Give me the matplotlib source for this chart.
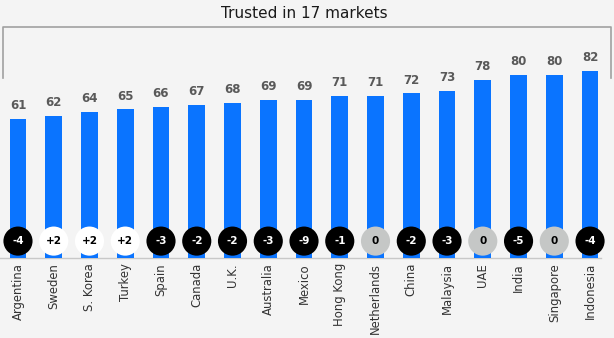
import matplotlib.pyplot as plt

countries = ["Argentina", "Sweden", "S. Korea", "Turkey", "Spain", "Canada", "U.K.",
             "Australia", "Mexico", "Hong Kong", "Netherlands", "China", "Malaysia",
             "UAE", "India", "Singapore", "Indonesia"]
trust = [61, 62, 64, 65, 66, 67, 68, 69, 69, 71, 71, 72, 73, 78, 80, 80, 82]
change = [-4, 2, 2, 2, -3, -2, -2, -3, -9, -1, 0, -2, -3, 0, -5, 0, -4]

fig = plt.figure(figsize=(6.14, 3.38), dpi=100)
fig.patch.set_facecolor("#f4f4f4")
ax = fig.add_axes([0, 0, 1, 1])
ax.set_facecolor("#f4f4f4")
ax.set_xlim(-0.503, 16.67)
ax.set_ylim(-35, 112.9)
ax.axis("off")

x = list(range(len(countries)))
ax.bar(x, trust, width=0.47, color="#0a74ff", zorder=2)

for i, v in enumerate(trust):
    ax.text(i, v + 3, str(v), ha="center", va="bottom", fontsize=8.5,
            color="#595959", fontweight="bold")

# baseline
ax.plot([-0.5, 16.3], [0, 0], color="#c8c8c8", lw=1, zorder=1)

# change circles
for i, c in enumerate(change):
    if c < 0:
        fc, tc, lab = "black", "white", str(c)
    elif c > 0:
        fc, tc, lab = "white", "black", "+" + str(c)
    else:
        fc, tc, lab = "#c5c7c6", "black", "0"
    ax.scatter(i, 7.4, s=440, color=fc, zorder=3, edgecolors="none")
    ax.text(i, 7.4, lab, ha="center", va="center", fontsize=7.5, color=tc,
            fontweight="bold", zorder=4)

for i, name in enumerate(countries):
    ax.text(i, -2.2, name, rotation=90, ha="center", va="top", fontsize=8.4,
            color="#333333")

# bracket
bx0, bx1 = -0.42, 16.59
ax.plot([bx0, bx0, bx1, bx1], [78.7, 101, 101, 78.7], color="#a0a0a0", lw=1.2)
ax.text(8, 106.8, "Trusted in 17 markets", ha="center", va="center",
        fontsize=11, color="#1a1a1a")

fig.savefig("out.png", dpi=100, facecolor=fig.get_facecolor())
